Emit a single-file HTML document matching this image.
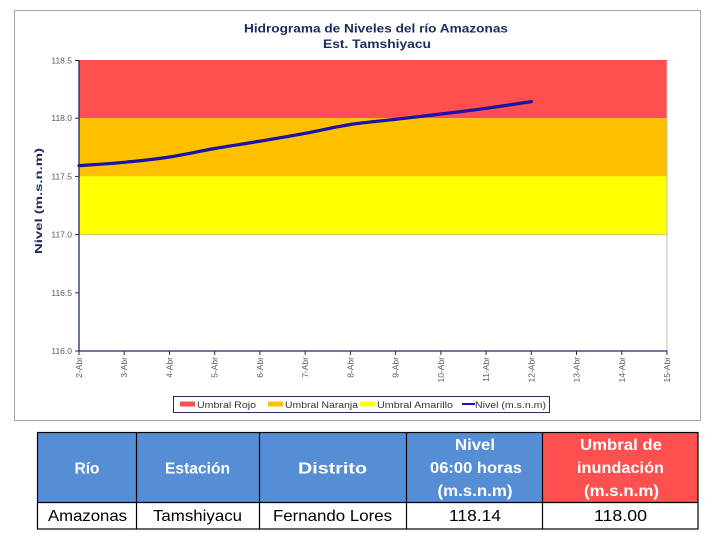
<!DOCTYPE html>
<html><head><meta charset="utf-8">
<style>
html,body{margin:0;padding:0;background:#fff;}
svg{display:block;}
</style></head>
<body>
<svg width="726" height="543" viewBox="0 0 726 543" xmlns="http://www.w3.org/2000/svg" font-family="'Liberation Sans', Arial, sans-serif">
  <rect x="0" y="0" width="726" height="543" fill="#fff"/>
  <!-- chart border -->
  <rect x="14.5" y="10.5" width="686" height="410" fill="#fff" stroke="#a6a6a6" stroke-width="1"/>
  <!-- title -->
  <text x="376" y="32.5" text-anchor="middle" font-size="12" font-weight="bold" fill="#1b2a5c" textLength="264" lengthAdjust="spacingAndGlyphs">Hidrograma de Niveles del río Amazonas</text>
  <text x="377" y="48" text-anchor="middle" font-size="12" font-weight="bold" fill="#1b2a5c" textLength="108" lengthAdjust="spacingAndGlyphs">Est. Tamshiyacu</text>

  <!-- bands -->
  <rect x="79" y="60" width="588" height="58.2" fill="#ff5050"/>
  <rect x="79" y="118.2" width="588" height="58.2" fill="#ffc000"/>
  <rect x="79" y="176.4" width="588" height="58.2" fill="#ffff00"/>
  <line x1="79" y1="234.6" x2="667" y2="234.6" stroke="#d9c25a" stroke-width="1"/>
  <!-- plot border right -->
  <line x1="667" y1="60" x2="667" y2="351" stroke="#bfbfbf" stroke-width="1"/>

  <!-- series -->
  <path d="M79,165.7 C94.07,164.6 109.13,163.75 124.2,162.3 C139.27,160.85 154.43,159.3 169.5,157 C184.57,154.7 199.63,151.13 214.7,148.5 C229.77,145.87 244.83,143.73 259.9,141.2 C274.97,138.67 290.13,136.08 305.2,133.3 C320.27,130.52 335.33,126.83 350.4,124.5 C365.47,122.17 380.53,121.05 395.6,119.3 C410.67,117.55 425.83,115.83 440.9,114 C455.97,112.17 471.03,110.35 486.1,108.3 C501.17,106.25 516.23,103.9 531.3,101.7" fill="none" stroke="#16127a" stroke-width="3.2" stroke-linecap="round"/>
  <path d="M79,165.7 C94.07,164.6 109.13,163.75 124.2,162.3 C139.27,160.85 154.43,159.3 169.5,157 C184.57,154.7 199.63,151.13 214.7,148.5 C229.77,145.87 244.83,143.73 259.9,141.2 C274.97,138.67 290.13,136.08 305.2,133.3 C320.27,130.52 335.33,126.83 350.4,124.5 C365.47,122.17 380.53,121.05 395.6,119.3 C410.67,117.55 425.83,115.83 440.9,114 C455.97,112.17 471.03,110.35 486.1,108.3 C501.17,106.25 516.23,103.9 531.3,101.7" fill="none" stroke="#1a10d0" stroke-width="1.6" stroke-linecap="round"/>

  <!-- axes -->
  <line x1="79" y1="60" x2="79" y2="351.5" stroke="#1f2d5a" stroke-width="1.3"/>
  <line x1="78.5" y1="351" x2="667.5" y2="351" stroke="#1f2d5a" stroke-width="1.3"/>
  <g stroke="#1f2d5a" stroke-width="1">
    <line x1="75" y1="60.5" x2="79" y2="60.5"/>
    <line x1="75" y1="118.2" x2="79" y2="118.2"/>
    <line x1="75" y1="176.4" x2="79" y2="176.4"/>
    <line x1="75" y1="234.6" x2="79" y2="234.6"/>
    <line x1="75" y1="292.8" x2="79" y2="292.8"/>
    <line x1="75" y1="351" x2="79" y2="351"/>
  </g>
  <g stroke="#1f2d5a" stroke-width="1">
    <line x1="79" y1="351" x2="79" y2="355"/>
    <line x1="124.2" y1="351" x2="124.2" y2="355"/>
    <line x1="169.5" y1="351" x2="169.5" y2="355"/>
    <line x1="214.7" y1="351" x2="214.7" y2="355"/>
    <line x1="259.9" y1="351" x2="259.9" y2="355"/>
    <line x1="305.2" y1="351" x2="305.2" y2="355"/>
    <line x1="350.4" y1="351" x2="350.4" y2="355"/>
    <line x1="395.6" y1="351" x2="395.6" y2="355"/>
    <line x1="440.9" y1="351" x2="440.9" y2="355"/>
    <line x1="486.1" y1="351" x2="486.1" y2="355"/>
    <line x1="531.3" y1="351" x2="531.3" y2="355"/>
    <line x1="576.5" y1="351" x2="576.5" y2="355"/>
    <line x1="621.8" y1="351" x2="621.8" y2="355"/>
    <line x1="667" y1="351" x2="667" y2="355"/>
  </g>

  <!-- y tick labels -->
  <g font-size="8.5" fill="#595959" text-anchor="end">
    <text x="72" y="63.5">118.5</text>
    <text x="72" y="121.2">118.0</text>
    <text x="72" y="179.4">117.5</text>
    <text x="72" y="237.6">117.0</text>
    <text x="72" y="295.8">116.5</text>
    <text x="72" y="354">116.0</text>
  </g>
  <!-- y axis title -->
  <text transform="translate(42,201) rotate(-90)" text-anchor="middle" font-size="10.5" font-weight="bold" fill="#1b2a5c" textLength="106" lengthAdjust="spacingAndGlyphs">Nivel (m.s.n.m)</text>

  <!-- x tick labels -->
  <g font-size="8.5" fill="#595959" text-anchor="end">
    <text transform="translate(82,357) rotate(-90)">2-Abr</text>
    <text transform="translate(127.2,357) rotate(-90)">3-Abr</text>
    <text transform="translate(172.5,357) rotate(-90)">4-Abr</text>
    <text transform="translate(217.7,357) rotate(-90)">5-Abr</text>
    <text transform="translate(262.9,357) rotate(-90)">6-Abr</text>
    <text transform="translate(308.2,357) rotate(-90)">7-Abr</text>
    <text transform="translate(353.4,357) rotate(-90)">8-Abr</text>
    <text transform="translate(398.6,357) rotate(-90)">9-Abr</text>
    <text transform="translate(443.9,357) rotate(-90)">10-Abr</text>
    <text transform="translate(489.1,357) rotate(-90)">11-Abr</text>
    <text transform="translate(534.3,357) rotate(-90)">12-Abr</text>
    <text transform="translate(579.5,357) rotate(-90)">13-Abr</text>
    <text transform="translate(624.8,357) rotate(-90)">14-Abr</text>
    <text transform="translate(670,357) rotate(-90)">15-Abr</text>
  </g>

  <!-- legend -->
  <rect x="173.5" y="396.5" width="376" height="16" fill="#fff" stroke="#1f2d5a" stroke-width="1"/>
  <rect x="180" y="401.5" width="15" height="5" fill="#ff5050"/>
  <text x="197" y="408" font-size="9.5" fill="#333" textLength="59" lengthAdjust="spacingAndGlyphs">Umbral Rojo</text>
  <rect x="268" y="401.5" width="15" height="5" fill="#ffc000"/>
  <text x="285" y="408" font-size="9.5" fill="#333" textLength="73" lengthAdjust="spacingAndGlyphs">Umbral Naranja</text>
  <rect x="360" y="401.5" width="15" height="5" fill="#ffff00"/>
  <text x="377" y="408" font-size="9.5" fill="#333" textLength="76" lengthAdjust="spacingAndGlyphs">Umbral Amarillo</text>
  <line x1="462" y1="404" x2="475" y2="404" stroke="#1a10c0" stroke-width="2"/>
  <text x="475" y="408" font-size="9.5" fill="#333" textLength="71" lengthAdjust="spacingAndGlyphs">Nivel (m.s.n.m)</text>

  <!-- table -->
  <rect x="37" y="432" width="369" height="70" fill="#558ed5"/>
  <rect x="406" y="432" width="136" height="70" fill="#558ed5"/>
  <rect x="542" y="432" width="156" height="70" fill="#ff5050"/>
  <rect x="37" y="502" width="661" height="27" fill="#fff"/>
  <g stroke="#000" stroke-width="1.2" fill="none">
    <rect x="37.5" y="432.5" width="660.5" height="96.5"/>
    <line x1="37" y1="502.5" x2="698" y2="502.5"/>
    <line x1="136.5" y1="432" x2="136.5" y2="529"/>
    <line x1="259.5" y1="432" x2="259.5" y2="529"/>
    <line x1="406.5" y1="432" x2="406.5" y2="529"/>
    <line x1="542.5" y1="432" x2="542.5" y2="529"/>
  </g>
  <g font-size="16" font-weight="bold" fill="#fff" text-anchor="middle">
    <text x="87" y="473.5" textLength="25" lengthAdjust="spacingAndGlyphs">Río</text>
    <text x="197.5" y="473.5" textLength="65" lengthAdjust="spacingAndGlyphs">Estación</text>
    <text x="332.5" y="473.5" textLength="69" lengthAdjust="spacingAndGlyphs">Distrito</text>
    <text x="475" y="450" textLength="40" lengthAdjust="spacingAndGlyphs">Nivel</text>
    <text x="476" y="473" textLength="92" lengthAdjust="spacingAndGlyphs">06:00 horas</text>
    <text x="475" y="496" textLength="75" lengthAdjust="spacingAndGlyphs">(m.s.n.m)</text>
    <text x="621" y="450" textLength="82" lengthAdjust="spacingAndGlyphs">Umbral de</text>
    <text x="620.5" y="473" textLength="87" lengthAdjust="spacingAndGlyphs">inundación</text>
    <text x="621.5" y="496" textLength="75" lengthAdjust="spacingAndGlyphs">(m.s.n.m)</text>
  </g>
  <g font-size="16" fill="#000" text-anchor="middle">
    <text x="87.5" y="521" textLength="79" lengthAdjust="spacingAndGlyphs">Amazonas</text>
    <text x="197.5" y="521" textLength="89" lengthAdjust="spacingAndGlyphs">Tamshiyacu</text>
    <text x="332.5" y="521" textLength="119" lengthAdjust="spacingAndGlyphs">Fernando Lores</text>
    <text x="475" y="521" textLength="52" lengthAdjust="spacingAndGlyphs">118.14</text>
    <text x="620.5" y="521" textLength="53" lengthAdjust="spacingAndGlyphs">118.00</text>
  </g>
</svg>
</body></html>
